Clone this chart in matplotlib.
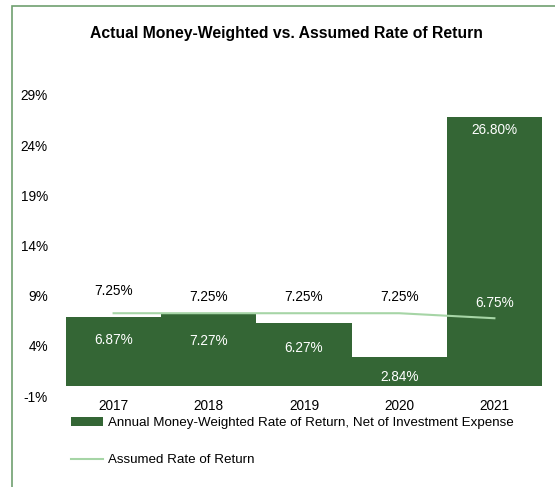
import matplotlib

matplotlib.use("Agg")
import matplotlib.pyplot as plt
from matplotlib.patches import Rectangle

years = ["2017", "2018", "2019", "2020", "2021"]
actual = [6.87, 7.27, 6.27, 2.84, 26.80]
assumed = [7.25, 7.25, 7.25, 7.25, 6.75]
yticks = [-1, 4, 9, 14, 19, 24, 29]

BAR = "#346635"
LINE = "#a6d5a6"
FRAME = "#6f9f6f"

# label offsets (in %) - mimics where Excel dropped the labels
bar_lab_off = [2.3, 2.75, 2.45, 1.95, 1.3]
line_lab_off = [2.2, 1.6, 1.6, 1.6, 1.5]

plt.rcParams["font.family"] = ["Liberation Sans", "DejaVu Sans"]
FS = 9.8

fig = plt.figure(figsize=(5.55, 4.87), dpi=100)
ax = fig.add_axes([66 / 555, 1 - 396 / 487, 476 / 555, 301 / 487])

x = list(range(len(years)))
bars = ax.bar(x, actual, width=1.0, color=BAR,
              label="Annual Money-Weighted Rate of Return, Net of Investment Expense")
line, = ax.plot(x, assumed, color=LINE, lw=1.5, label="Assumed Rate of Return")

for i, v in enumerate(actual):
    ax.text(i, v - bar_lab_off[i], f"{v:.2f}%", ha="center", va="center", color="white", fontsize=FS)
for i, v in enumerate(assumed):
    ly = v + line_lab_off[i]
    c = "white" if ly < actual[i] else "black"
    ax.text(i, ly, f"{v:.2f}%", ha="center", va="center", color=c, fontsize=FS)

ax.set_xlim(-0.5, len(years) - 0.5)
ax.set_ylim(-1, 29)
ax.set_yticks(yticks)
ax.set_yticklabels([f"{t}%" for t in yticks])
ax.set_xticks(x)
ax.set_xticklabels(years)
ax.tick_params(axis="both", length=0, labelsize=FS)
ax.tick_params(axis="y", pad=13)
ax.tick_params(axis="x", pad=2)
for s in ax.spines.values():
    s.set_visible(False)

fig.text(286 / 555, 1 - 33 / 487, "Actual Money-Weighted vs. Assumed Rate of Return",
         ha="center", va="center", fontsize=11.3, fontweight="bold")

ax.legend(handles=[bars, line], loc="upper left", bbox_to_anchor=(71 / 555, 1 - 417 / 487),
          bbox_transform=fig.transFigure, frameon=False, fontsize=9.6, handlelength=2.4,
          handleheight=0.68, handletextpad=0.38, labelspacing=1.85, borderpad=0, borderaxespad=0)

fig.add_artist(Rectangle((11.5 / 555, -0.1), 1.2, 1.1 - 5.5 / 487, transform=fig.transFigure,
                         fill=False, edgecolor=FRAME, lw=1.2))

fig.savefig("out.png", dpi=100)
